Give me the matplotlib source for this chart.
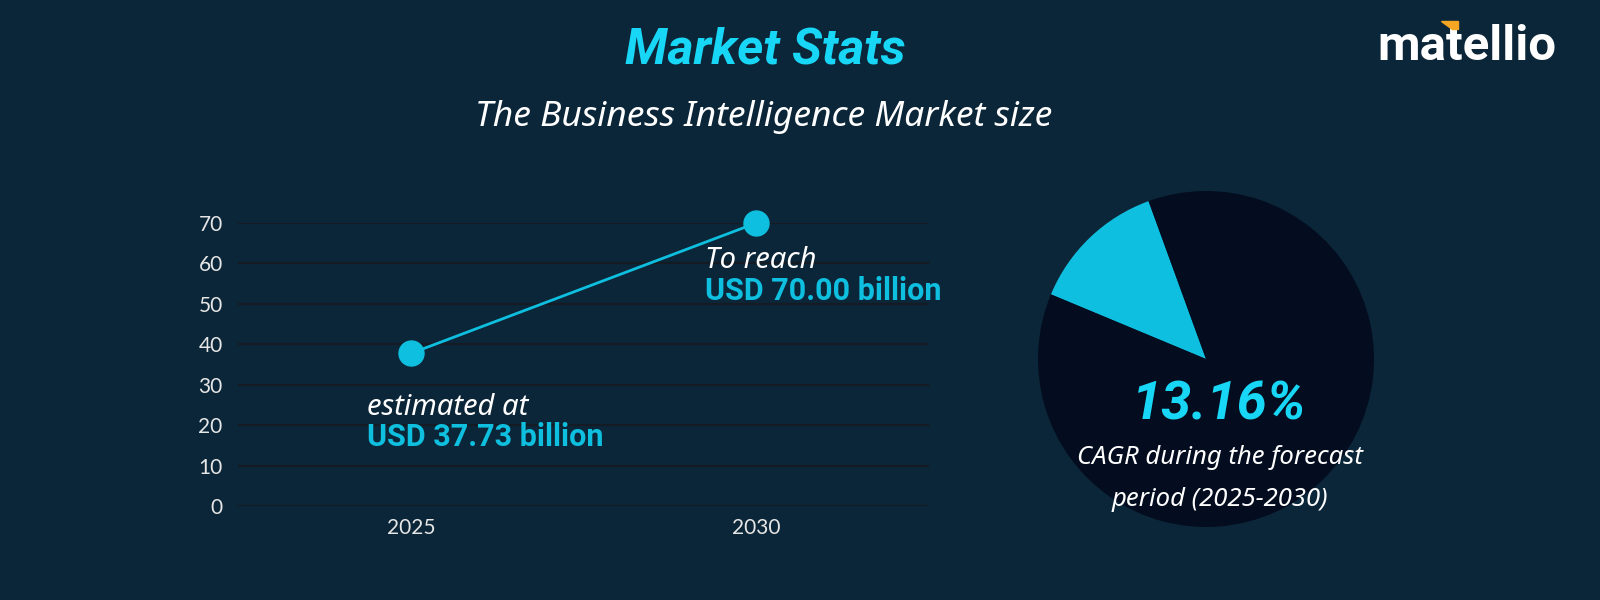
import matplotlib.pyplot as plt
from matplotlib.patches import Polygon

years = ["2025", "2030"]
market_size = [37.73, 70.00]
size_labels = ["USD 37.73 billion", "USD 70.00 billion"]
lead_texts = ["estimated at", "To reach"]
yticks = [0, 10, 20, 30, 40, 50, 60, 70]
cagr = 13.16
pie_values = [cagr, 100 - cagr]

bg = "#0b2638"
cyan = "#0fbfdf"
bright = "#18d6f5"
dark = "#030d1f"
plt.rcParams["font.family"] = ["Noto Sans", "DejaVu Sans"]
boldfont = ["Roboto", "DejaVu Sans"]

fig = plt.figure(figsize=(16, 6), dpi=100, facecolor=bg)

# line chart
ax = fig.add_axes([238 / 1600, 1 - 506 / 600, 691 / 1600, 283 / 600])
ax.set_facecolor(bg)
xs = list(range(len(years)))
ax.plot(xs, market_size, color=cyan, lw=2, marker="o", ms=18, clip_on=False, zorder=3)
ax.set_xlim(-0.5, 1.5)
ax.set_ylim(0, 70)
ax.set_yticks(yticks)
ax.set_xticks(xs, years)
ax.grid(axis="y", color="#151b22", lw=1.5)
ax.set_axisbelow(True)
for s in ax.spines.values():
    s.set_visible(False)
ax.tick_params(length=0, colors="#e6e6e6", labelsize=15)
for t in ax.get_xticklabels() + ax.get_yticklabels():
    t.set_family(["Lato", "DejaVu Sans"])
ax.tick_params(axis="y", pad=11)
ax.tick_params(axis="x", pad=9)

offs = [(-44, -54, -84), (-51, -38, -68)]
for i in range(len(years)):
    dx, d1, d2 = offs[i]
    ax.annotate(lead_texts[i], (xs[i], market_size[i]), xytext=(dx, d1), textcoords="offset pixels",
                color="white", fontsize=21, style="italic", va="center", ha="left")
    ax.annotate(size_labels[i], (xs[i], market_size[i]), xytext=(dx, d2), textcoords="offset pixels",
                color=cyan, fontsize=22, weight="bold", family=boldfont, va="center", ha="left")

# pie
pax = fig.add_axes([(1206 - 168) / 1600, 1 - (359 + 168) / 600, 336 / 1600, 336 / 600])
pax.pie(pie_values, colors=[cyan, dark], startangle=110, counterclock=True, radius=1)
pax.set_xlim(-1, 1)
pax.set_ylim(-1, 1)
pax.set_aspect("equal")
pax.axis("off")

fig.text(1219 / 1600, 1 - 420 / 600, f"{cagr:.2f}%", color=bright, fontsize=39, weight="bold",
         style="italic", family=boldfont, ha="center", va="baseline")
fig.text(1220 / 1600, 1 - 458 / 600, "CAGR during the forecast", color="white", fontsize=18.5,
         style="italic", ha="center", va="center")
fig.text(1220 / 1600, 1 - 499 / 600, "period (2025-2030)", color="white", fontsize=18.5,
         style="italic", ha="center", va="center")

# titles
fig.text(765 / 1600, 1 - 64 / 600, "Market Stats", color=bright, fontsize=36, weight="bold",
         style="italic", family=boldfont, ha="center", va="baseline")
fig.text(764 / 1600, 1 - 117 / 600, "The Business Intelligence Market size", color="white",
         fontsize=25.5, style="italic", ha="center", va="center")

# logo
fig.text(1467 / 1600, 1 - 60 / 600, "matellio", color="white", fontsize=35.5, weight="bold",
         family=boldfont, ha="center", va="baseline")
fig.patches.append(Polygon([[1441 / 1600, 1 - 21 / 600], [1458 / 1600, 1 - 21 / 600],
                            [1458 / 1600, 1 - 29 / 600], [1452 / 1600, 1 - 29 / 600]],
                           closed=True, color="#f5a623", zorder=5,
                           transform=fig.transFigure, figure=fig))

fig.savefig("out.png", dpi=100, facecolor=bg)
